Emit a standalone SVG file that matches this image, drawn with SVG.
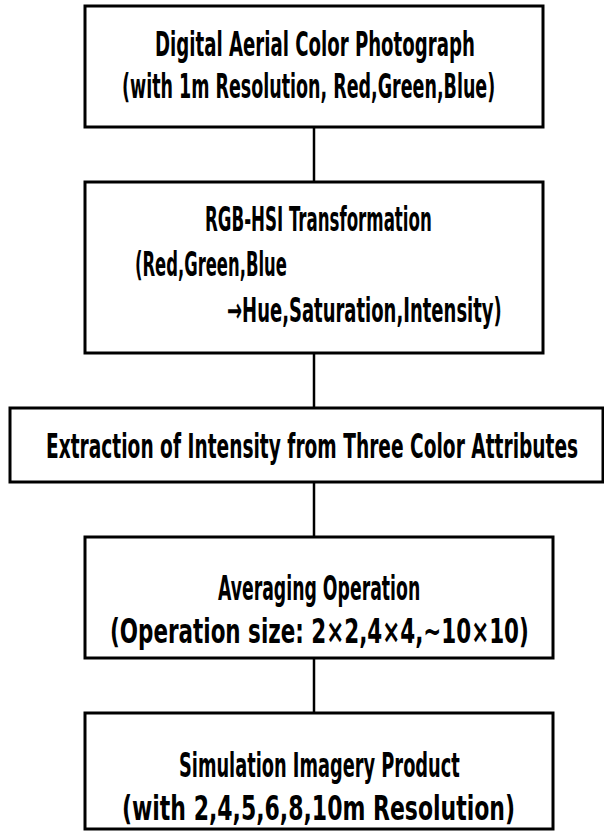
<svg xmlns="http://www.w3.org/2000/svg" width="604" height="831" viewBox="0 0 604 831">
<style>
.box{fill:#fff;stroke:#000;stroke-width:3}
.con{stroke:#000;stroke-width:2.5;fill:none}
text{font-family:"DejaVu Sans Condensed","Liberation Sans Narrow","Liberation Sans",sans-serif;font-weight:bold;font-size:34px;fill:#000}
</style>
<rect width="604" height="831" fill="#fff"/>
<g id="connectors">
<line class="con" x1="314" y1="127" x2="314" y2="182"/>
<line class="con" x1="314" y1="353" x2="314" y2="408"/>
<line class="con" x1="314" y1="482" x2="314" y2="537"/>
<line class="con" x1="314" y1="658" x2="314" y2="713"/>
</g>
<g id="node1">
<rect class="box" x="85" y="6" width="458" height="121"/>
<text transform="translate(155,56) scale(0.6,1)" textLength="533" lengthAdjust="spacingAndGlyphs">Digital Aerial Color Photograph</text>
<text transform="translate(122,98) scale(0.6,1)" textLength="622" lengthAdjust="spacingAndGlyphs">(with 1m Resolution, Red,Green,Blue)</text>
</g>
<g id="node2">
<rect class="box" x="85" y="182" width="458" height="171"/>
<text transform="translate(205,231) scale(0.6,1)" textLength="378" lengthAdjust="spacingAndGlyphs">RGB-HSI Transformation</text>
<text transform="translate(135,276) scale(0.6,1)" textLength="253" lengthAdjust="spacingAndGlyphs">(Red,Green,Blue</text>
<text transform="translate(227,322) scale(0.6,1)" textLength="458" lengthAdjust="spacingAndGlyphs">→Hue,Saturation,Intensity)</text>
</g>
<g id="node3">
<rect class="box" x="10" y="408" width="593" height="74"/>
<text transform="translate(46,458) scale(0.6,1)" textLength="887" lengthAdjust="spacingAndGlyphs">Extraction of Intensity from Three Color Attributes</text>
</g>
<g id="node4">
<rect class="box" x="85" y="537" width="468" height="121"/>
<text transform="translate(218,600) scale(0.6,1)" textLength="337" lengthAdjust="spacingAndGlyphs">Averaging Operation</text>
<text transform="translate(110,643) scale(0.6,1)" textLength="698" lengthAdjust="spacingAndGlyphs">(Operation size: 2×2,4×4,~10×10)</text>
</g>
<g id="node5">
<rect class="box" x="85" y="713" width="468" height="116"/>
<text transform="translate(179,777) scale(0.6,1)" textLength="468" lengthAdjust="spacingAndGlyphs">Simulation Imagery Product</text>
<text transform="translate(122,820) scale(0.6,1)" textLength="655" lengthAdjust="spacingAndGlyphs">(with 2,4,5,6,8,10m Resolution)</text>
</g>
</svg>
